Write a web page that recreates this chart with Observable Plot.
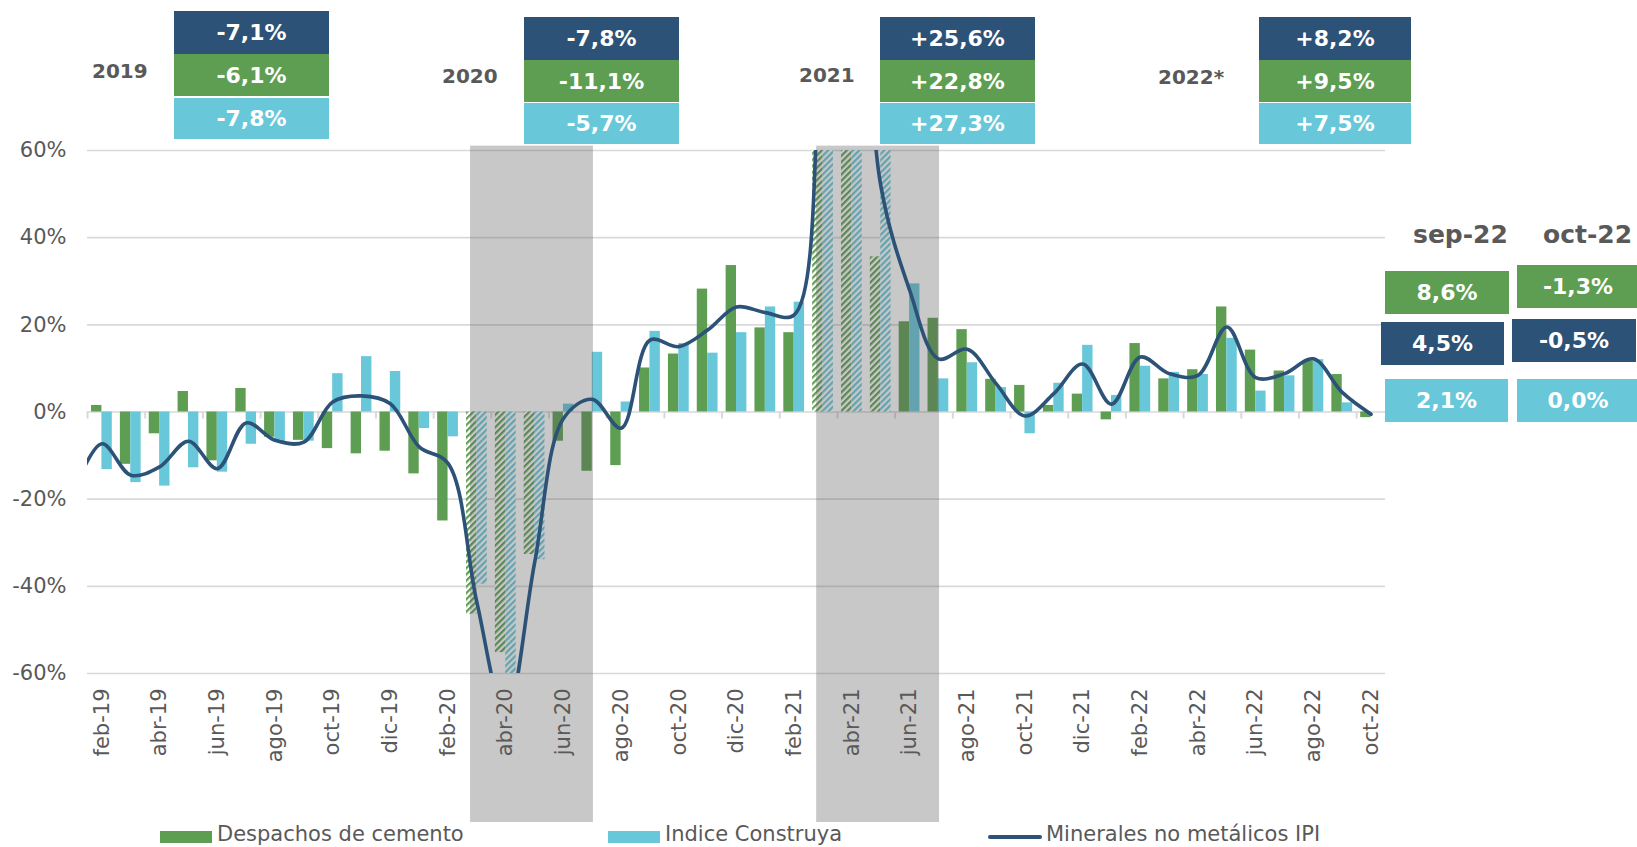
<!DOCTYPE html>
<html>
<head>
<meta charset="utf-8">
<script src="https://cdn.jsdelivr.net/npm/d3@7"></script>
<script src="https://cdn.jsdelivr.net/npm/@observablehq/plot@0.6"></script>
<style>
  html, body { margin: 0; padding: 0; background: #fff; }
  #wrap { position: relative; width: 1637px; height: 847px; overflow: hidden; font-family: "DejaVu Sans", Verdana, sans-serif; }
  .box { position: absolute; display: flex; align-items: center; justify-content: center; color: #fff; font-weight: bold; font-size: 22px; }
  .yr { position: absolute; color: #595959; font-weight: bold; font-size: 20px; line-height: 24px; }
  .hdr { position: absolute; color: #595959; font-weight: bold; font-size: 25px; line-height: 30px; }
  #legend { position: absolute; left: 0; top: 822px; width: 1637px; height: 25px; font-size: 21px; color: #595959; }
  .li { position: absolute; top: 0; height: 25px; line-height: 25px; white-space: nowrap; }
  .sw { position: absolute; }
</style>
</head>
<body>
<div id="wrap"></div>
<script>
// ---------- data ----------
const months = ["ene-19","feb-19","mar-19","abr-19","may-19","jun-19","jul-19","ago-19","sep-19","oct-19","nov-19","dic-19",
  "ene-20","feb-20","mar-20","abr-20","may-20","jun-20","jul-20","ago-20","sep-20","oct-20","nov-20","dic-20",
  "ene-21","feb-21","mar-21","abr-21","may-21","jun-21","jul-21","ago-21","sep-21","oct-21","nov-21","dic-21",
  "ene-22","feb-22","mar-22","abr-22","may-22","jun-22","jul-22","ago-22","sep-22","oct-22"];
const cemento = [null, 1.5, -12.0, -5.0, 4.7, -11.2, 5.4, -5.8, -6.5, -8.4, -9.6, -9.0,
  -14.2, -25.0, -46.4, -55.2, -32.7, -6.7, -13.6, -12.3, 10.1, 13.3, 28.2, 33.6,
  19.3, 18.2, 75, 120, 35.6, 20.7, 21.5, 18.9, 7.5, 6.1, 1.5, 4.1,
  -1.8, 15.7, 7.6, 9.7, 24.1, 14.2, 9.4, 11.7, 8.6, -1.3];
const construya = [null, -13.2, -16.2, -17.0, -12.8, -13.8, -7.4, -6.9, -6.7, 8.8, 12.7, 9.3,
  -3.8, -5.7, -39.5, -65, -33.9, 1.8, 13.7, 2.3, 18.5, 15.7, 13.5, 18.2,
  24.1, 25.2, 80, 150, 65, 29.4, 7.6, 11.3, 5.6, -5.0, 6.6, 15.3,
  3.8, 10.5, 9.1, 8.6, 16.9, 4.8, 8.3, 12.0, 2.1, 0.0];
const ipi = [-18.5, -7.3, -14.5, -12.6, -6.7, -13.0, -2.5, -6.5, -6.9, 2.3, 3.7, 1.9,
  -8.0, -11.8, -43.7, -70, -34.6, -1.5, 2.9, -3.7, 16.5, 15.0, 18.8, 24.1,
  22.8, 22.3, 90, 130, 52, 28, 12.2, 14.4, 6.5, -0.9, 4.2, 11.0,
  1.8, 12.6, 8.8, 8.4, 19.5, 7.9, 8.8, 12.2, 4.5, -0.5];
const hatchedMonths = ["mar-20","abr-20","may-20","mar-21","abr-21","may-21"];
const shadedPeriods = [["mar-20","jul-20"],["mar-21","jul-21"]];
const yTicks = [-60, -40, -20, 0, 20, 40, 60];
const firstShown = "feb-19";

const years = ["2019","2020","2021","2022*"];
const yearIpi = [-7.1, -7.8, 25.6, 8.2];
const yearCemento = [-6.1, -11.1, 22.8, 9.5];
const yearConstruya = [-7.8, -5.7, 27.3, 7.5];

const lastMonths = ["sep-22","oct-22"];
const lastCemento = [8.6, -1.3];
const lastIpi = [4.5, -0.5];
const lastConstruya = [2.1, 0.0];

const seriesNames = ["Despachos de cemento","Indice Construya","Minerales no metálicos IPI"];

// ---------- styles ----------
const GREEN = "#5e9e52", CYAN = "#68c8da", NAVY = "#2c5277", GRID = "#d9d9d9";

const rows = months.map((m, i) => ({i, m, cem: cemento[i], con: construya[i], ipi: ipi[i], hatched: hatchedMonths.includes(m)}));
const idx = m => months.indexOf(m);
const i0 = idx(firstShown);
const bars = rows.filter(d => d.i >= i0);
const labelIdx = bars.filter((d, k) => k % 2 === 0).map(d => d.i);
const bounds = bars.filter((d, k) => k % 2 === 0).map(d => d.i - 0.5);
const bw = 0.36;

const plot = Plot.plot({
  width: 1637, height: 822,
  marginLeft: 87, marginRight: 252, marginTop: 150, marginBottom: 149,
  style: {fontFamily: "DejaVu Sans, Verdana, sans-serif", fontSize: "21px", color: "#595959", background: "transparent"},
  x: {type: "linear", domain: [i0 - 0.5, months.length - 0.5]},
  y: {domain: [-60, 60]},
  marks: [
    Plot.ruleY(yTicks, {stroke: GRID, strokeWidth: 1.6}),
    Plot.ruleX(bounds, {x: d => d, y1: () => 0, y2: () => -1.6, stroke: GRID, strokeWidth: 2}),
    Plot.rect(bars.filter(d => !d.hatched), {x1: d => d.i - bw, x2: d => d.i, y1: () => 0, y2: "cem", fill: GREEN, clip: true}),
    Plot.rect(bars.filter(d => !d.hatched), {x1: d => d.i, x2: d => d.i + bw, y1: () => 0, y2: "con", fill: CYAN, clip: true}),
    Plot.rect(bars.filter(d => d.hatched), {x1: d => d.i - bw, x2: d => d.i, y1: () => 0, y2: "cem", fill: "url(#hatchG)", clip: true}),
    Plot.rect(bars.filter(d => d.hatched), {x1: d => d.i, x2: d => d.i + bw, y1: () => 0, y2: "con", fill: "url(#hatchC)", clip: true}),
    Plot.rect(shadedPeriods, {x1: d => idx(d[0]) - 0.22, x2: d => idx(d[1]) + 0.04, y1: () => 61, y2: () => -94.3, fill: "#575757", fillOpacity: 0.33}),
    Plot.line(rows, {x: "i", y: "ipi", curve: "catmull-rom", stroke: NAVY, strokeWidth: 3.6, clip: true}),
    Plot.axisY({ticks: yTicks, tickFormat: d => d + "%", tickSize: 0, tickPadding: 21, fontSize: 21, label: null}),
    Plot.axisX({ticks: labelIdx, tickFormat: i => months[i], tickRotate: -90, tickSize: 0, tickPadding: 15, fontSize: 21, label: null})
  ]
});

plot.insertAdjacentHTML("afterbegin", `<defs>
  <pattern id="hatchG" patternUnits="userSpaceOnUse" width="4.4" height="4.4" patternTransform="rotate(45)">
    <rect width="4.4" height="4.4" fill="#fff"/><rect width="2.2" height="4.4" fill="${GREEN}"/></pattern>
  <pattern id="hatchC" patternUnits="userSpaceOnUse" width="4.4" height="4.4" patternTransform="rotate(45)">
    <rect width="4.4" height="4.4" fill="#fff"/><rect width="2.2" height="4.4" fill="${CYAN}"/></pattern>
</defs>`);

const wrap = document.getElementById("wrap");
wrap.appendChild(plot);

// ---------- annotations ----------
const fmtS = v => (v > 0 ? "+" : "") + v.toFixed(1).replace(".", ",") + "%";
const fmt = v => v.toFixed(1).replace(".", ",") + "%";
function box(left, top, w, h, bg, text) {
  const d = document.createElement("div");
  d.className = "box";
  Object.assign(d.style, {left: left + "px", top: top + "px", width: w + "px", height: h + "px", background: bg});
  d.textContent = text;
  wrap.appendChild(d);
}
function label(cls, left, top, text) {
  const d = document.createElement("div");
  d.className = cls;
  d.style.left = left + "px"; d.style.top = top + "px";
  d.textContent = text;
  wrap.appendChild(d);
}
const yearLayout = [
  {x: 174, w: 155, t: 11, lx: 92, ly: 59},
  {x: 524, w: 155, t: 17, lx: 442, ly: 64},
  {x: 880, w: 155, t: 17, lx: 799, ly: 63},
  {x: 1259, w: 152, t: 17, lx: 1158, ly: 65}
];
years.forEach((y, k) => {
  const L = yearLayout[k];
  box(L.x, L.t, L.w, 43, NAVY, fmtS(yearIpi[k]));
  box(L.x, L.t + 43, L.w, 42, GREEN, fmtS(yearCemento[k]));
  box(L.x, L.t + 86 + (k === 0 ? 0.6 : 0), L.w, 41, CYAN, fmtS(yearConstruya[k]));
  label("yr", L.lx, L.ly, y);
});
const lastLayout = [
  {hx: 1413, g: [1385, 271, 124], n: [1381, 322, 123], c: [1385, 379, 123]},
  {hx: 1543, g: [1517, 265, 122], n: [1512, 319, 124], c: [1517, 379, 122]}
];
lastMonths.forEach((m, k) => {
  const L = lastLayout[k];
  label("hdr", L.hx, 220, m);
  box(L.g[0], L.g[1], L.g[2], 43, GREEN, fmt(lastCemento[k]));
  box(L.n[0], L.n[1], L.n[2], 43, NAVY, fmt(lastIpi[k]));
  box(L.c[0], L.c[1], L.c[2], 43, CYAN, fmt(lastConstruya[k]));
});

// ---------- legend ----------
const legend = document.createElement("div");
legend.id = "legend";
const legLayout = [
  {sx: 160, tx: 217, color: GREEN, kind: "rect"},
  {sx: 608, tx: 665, color: CYAN, kind: "rect"},
  {sx: 988, tx: 1046, color: NAVY, kind: "line"}
];
seriesNames.forEach((name, k) => {
  const L = legLayout[k];
  const sw = document.createElement("div");
  sw.className = "sw";
  if (L.kind === "rect") Object.assign(sw.style, {left: L.sx + "px", top: "9px", width: "52px", height: "12px", background: L.color});
  else Object.assign(sw.style, {left: L.sx + "px", top: "13px", width: "54px", height: "4px", background: L.color, borderRadius: "2px"});
  legend.appendChild(sw);
  const t = document.createElement("div");
  t.className = "li";
  t.style.left = L.tx + "px";
  t.textContent = name;
  legend.appendChild(t);
});
wrap.appendChild(legend);
</script>
</body>
</html>
